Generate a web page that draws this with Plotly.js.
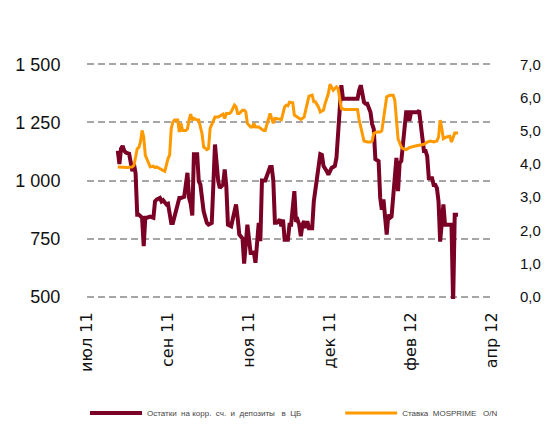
<!DOCTYPE html>
<html><head><meta charset="utf-8">
<script src="https://cdn.plot.ly/plotly-3.0.1.min.js"></script>
<style>html,body{margin:0;padding:0;background:#fff}#chart{width:552px;height:426px}</style>
</head><body><div id="chart"></div>
<script>
// Остатки на корр. сч. и депозиты в ЦБ (левая ось)
const depositDates = [
'2011-08-16','2011-08-17','2011-08-18','2011-08-19','2011-08-20','2011-08-21','2011-08-23','2011-08-25','2011-08-26','2011-08-27',
'2011-08-28','2011-08-29','2011-08-31','2011-09-01','2011-09-02','2011-09-03','2011-09-05','2011-09-07','2011-09-08','2011-09-09',
'2011-09-11','2011-09-12','2011-09-13','2011-09-15','2011-09-16','2011-09-18','2011-09-19','2011-09-21','2011-09-23','2011-09-24',
'2011-09-26','2011-09-28','2011-09-29','2011-09-30','2011-10-01','2011-10-02','2011-10-04','2011-10-05','2011-10-06','2011-10-08',
'2011-10-10','2011-10-11','2011-10-13','2011-10-14','2011-10-15','2011-10-17','2011-10-18','2011-10-20','2011-10-21','2011-10-22',
'2011-10-23','2011-10-25','2011-10-26','2011-10-28','2011-10-29','2011-10-30','2011-11-01','2011-11-02','2011-11-04','2011-11-05',
'2011-11-06','2011-11-07','2011-11-08','2011-11-09','2011-11-10','2011-11-11','2011-11-12','2011-11-13','2011-11-15','2011-11-16',
'2011-11-18','2011-11-19','2011-11-20','2011-11-21','2011-11-22','2011-11-24','2011-11-25','2011-11-26','2011-11-27','2011-11-29',
'2011-11-30','2011-12-01','2011-12-03','2011-12-04','2011-12-05','2011-12-06','2011-12-07','2011-12-08','2011-12-09','2011-12-10',
'2011-12-11','2011-12-12','2011-12-14','2011-12-15','2011-12-16','2011-12-17','2011-12-18','2011-12-19','2011-12-20','2011-12-21',
'2011-12-23','2011-12-24','2011-12-26','2011-12-28','2011-12-29','2011-12-30','2011-12-31','2012-01-01','2012-01-02','2012-01-04',
'2012-01-08','2012-01-11','2012-01-12','2012-01-13','2012-01-15','2012-01-16','2012-01-17','2012-01-19','2012-01-20','2012-01-21',
'2012-01-22','2012-01-24','2012-01-25','2012-01-26','2012-01-27','2012-01-29','2012-01-30','2012-01-31','2012-02-01','2012-02-03',
'2012-02-04','2012-02-05','2012-02-06','2012-02-07','2012-02-08','2012-02-09','2012-02-10','2012-02-11','2012-02-12','2012-02-13',
'2012-02-15','2012-02-17','2012-02-18','2012-02-19','2012-02-20','2012-02-21','2012-02-22','2012-02-23','2012-02-24','2012-02-25',
'2012-02-26','2012-02-27','2012-02-28','2012-02-29','2012-03-01','2012-03-02','2012-03-03','2012-03-04','2012-03-05','2012-03-06',
'2012-03-07','2012-03-09','2012-03-10','2012-03-11','2012-03-13'];
const depositValues = [
1128,1071,1137,1149,1128,1120,1115,1040,1070,1030,
853,853,840,718,840,840,845,840,910,918,
925,910,915,897,900,817,817,868,925,925,
930,1033,925,900,850,1113,1113,997,982,867,
817,810,817,982,1155,997,968,982,1048,975,
810,803,839,897,839,768,750,642,810,755,
688,688,690,646,760,818,739,1000,1000,1022,
1058,1058,1000,818,818,832,803,832,745,745,
810,810,954,823,830,810,760,810,825,795,
825,795,795,910,968,997,1076,1113,1110,1062,
1040,1025,1054,1062,1098,1200,1345,1410,1352,1352,
1352,1352,1388,1410,1337,1330,1330,1294,1243,1222,
1092,1083,925,874,918,767,853,839,845,1010,
1097,954,1076,1083,1163,1214,1294,1294,1257,1294,
1294,1294,1301,1243,1149,1127,1127,1105,1010,1010,
1010,981,981,967,910,737,839,897,810,810,
810,810,470,853,853];

// Ставка MOSPRIME O/N (правая ось, %)
const rateDates = [
'2011-08-16','2011-08-19','2011-08-22','2011-08-25','2011-08-26','2011-08-27','2011-08-28','2011-08-29','2011-08-30','2011-08-31',
'2011-09-01','2011-09-02','2011-09-04','2011-09-05','2011-09-07','2011-09-08','2011-09-09','2011-09-11','2011-09-12','2011-09-14',
'2011-09-15','2011-09-16','2011-09-17','2011-09-18','2011-09-19','2011-09-20','2011-09-22','2011-09-23','2011-09-24','2011-09-25',
'2011-09-27','2011-09-28','2011-09-29','2011-09-30','2011-10-01','2011-10-02','2011-10-04','2011-10-05','2011-10-07','2011-10-08',
'2011-10-10','2011-10-11','2011-10-12','2011-10-14','2011-10-15','2011-10-17','2011-10-19','2011-10-20','2011-10-21','2011-10-22',
'2011-10-24','2011-10-25','2011-10-27','2011-10-28','2011-10-29','2011-10-30','2011-11-01','2011-11-02','2011-11-03','2011-11-04',
'2011-11-06','2011-11-07','2011-11-08','2011-11-09','2011-11-11','2011-11-13','2011-11-14','2011-11-15','2011-11-17','2011-11-18',
'2011-11-19','2011-11-20','2011-11-21','2011-11-22','2011-11-24','2011-11-25','2011-11-27','2011-11-28','2011-11-29','2011-11-30',
'2011-12-02','2011-12-03','2011-12-05','2011-12-07','2011-12-09','2011-12-11','2011-12-12','2011-12-14','2011-12-15','2011-12-16',
'2011-12-18','2011-12-19','2011-12-21','2011-12-22','2011-12-24','2011-12-25','2011-12-26','2011-12-27','2011-12-28','2011-12-29',
'2011-12-30','2011-12-31','2012-01-01','2012-01-03','2012-01-06','2012-01-09','2012-01-11','2012-01-12','2012-01-14','2012-01-15',
'2012-01-17','2012-01-19','2012-01-20','2012-01-21','2012-01-23','2012-01-25','2012-01-26','2012-01-28','2012-01-29','2012-01-31',
'2012-02-02','2012-02-03','2012-02-04','2012-02-05','2012-02-07','2012-02-08','2012-02-10','2012-02-12','2012-02-15','2012-02-19',
'2012-02-21','2012-02-23','2012-02-25','2012-02-27','2012-02-29','2012-03-01','2012-03-02','2012-03-03','2012-03-04','2012-03-06',
'2012-03-08','2012-03-09','2012-03-10','2012-03-11','2012-03-13'];
const rateValues = [
3.91,3.89,3.89,3.91,3.96,4.21,4.46,4.49,4.66,5.01,
4.81,4.26,4.01,3.91,3.93,3.89,3.91,3.86,3.81,3.78,
3.96,4.16,4.26,5.07,5.26,5.32,5.32,4.96,5.22,5.01,
5.01,5.05,5.32,5.50,5.32,5.37,5.32,5.32,4.91,4.51,
4.43,4.46,5.07,5.32,5.41,5.41,5.47,5.50,5.37,5.52,
5.52,5.57,5.77,5.72,5.52,5.52,5.62,5.62,5.57,5.22,
5.11,5.11,5.22,5.11,5.11,5.03,5.01,5.01,5.32,5.52,
5.37,5.22,5.37,5.37,5.35,5.33,5.72,5.77,5.75,5.86,
5.84,5.47,5.41,5.34,5.41,5.87,6.04,6.07,5.87,5.87,
5.70,5.56,5.62,5.82,6.12,6.40,6.32,6.22,6.27,6.32,
6.27,5.92,5.67,5.64,5.64,5.64,5.64,5.32,4.92,4.69,
4.66,4.66,4.69,4.92,4.96,4.96,5.00,5.72,6.02,6.07,
6.07,5.92,5.22,4.76,4.51,4.46,4.43,4.49,4.53,4.56,
4.59,4.66,4.69,4.66,4.69,4.81,5.32,5.07,4.76,4.81,
4.83,4.66,4.81,4.93,4.93];

const xTickDates = ['2011-07-28','2011-09-16','2011-11-05','2011-12-25','2012-02-13','2012-04-03'];
const xTickLabels = ['июл 11','сен 11','ноя 11','дек 11','фев 12','апр 12'];
const leftTicks = [500, 750, 1000, 1250, 1500];
const rightTicks = [0, 1, 2, 3, 4, 5, 6, 7];
const seriesNames = ['Остатки  на корр.  сч.  и  депозиты   в  ЦБ', 'Ставка  MOSPRIME   O/N'];

const traces = [
  {x: depositDates, y: depositValues, name: seriesNames[0], type: 'scatter', mode: 'lines',
   line: {color: '#7a0026', width: 4}, yaxis: 'y', legend: 'legend'},
  {x: rateDates, y: rateValues, name: seriesNames[1], type: 'scatter', mode: 'lines',
   line: {color: '#ff9900', width: 3}, yaxis: 'y2', legend: 'legend2'}
];

const legendFont = {family: 'Liberation Sans Narrow, Liberation Sans', size: 8, color: '#444'};

const layout = {
  width: 552, height: 426,
  margin: {l: 87, r: 60, t: 61.7, b: 127, autoexpand: false},
  paper_bgcolor: '#fff', plot_bgcolor: '#fff',
  separators: ', ',
  showlegend: true,
  hovermode: false,
  xaxis: {
    type: 'date', range: ['2011-07-28', '2012-04-03'], automargin: false,
    tickmode: 'array', tickvals: xTickDates, ticktext: xTickLabels,
    tickangle: -90, ticks: 'outside', ticklen: 6, tickcolor: 'rgba(0,0,0,0)',
    showgrid: false, zeroline: false, showline: false,
    tickfont: {family: 'DejaVu Sans', size: 16, color: '#111'}
  },
  yaxis: {
    range: [490, 1510], tickmode: 'array', tickvals: leftTicks, tickformat: ',d', automargin: false,
    ticks: 'outside', ticklen: 22, tickcolor: 'rgba(0,0,0,0)',
    showgrid: true, gridcolor: '#a6a6a6', gridwidth: 2, griddash: '7px,4px',
    zeroline: false, showline: false,
    tickfont: {family: 'Liberation Sans', size: 18, color: '#111'}
  },
  yaxis2: {
    overlaying: 'y', side: 'right', range: [-0.07, 7.07], tickmode: 'array', tickvals: rightTicks,
    tickformat: '.1f', ticks: 'outside', ticklen: 24, tickcolor: 'rgba(0,0,0,0)', automargin: false,
    showgrid: false, zeroline: false, showline: false,
    tickfont: {family: 'Liberation Sans', size: 15, color: '#111'}
  },
  legend: {
    orientation: 'h', x: -0.005, xanchor: 'left', yref: 'container', y: 0.0305, yanchor: 'middle',
    font: legendFont, itemwidth: 52, bgcolor: 'rgba(0,0,0,0)'
  },
  legend2: {
    orientation: 'h', x: 0.625, xanchor: 'left', yref: 'container', y: 0.0305, yanchor: 'middle',
    font: legendFont, itemwidth: 52, bgcolor: 'rgba(0,0,0,0)'
  }
};

Plotly.newPlot('chart', traces, layout, {staticPlot: true, displayModeBar: false});
</script>
</body></html>
